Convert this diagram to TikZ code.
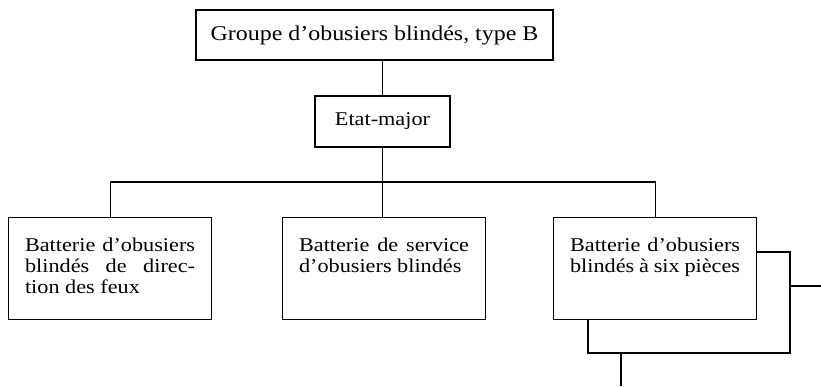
\documentclass[tikz,border=0pt]{standalone}
\usepackage{fontspec}
\setmainfont{Liberation Serif}[FakeStretch=1.14]
\begin{document}
\begin{tikzpicture}[x=1pt, y=-1pt, line width=1.1pt,
    box/.style={draw=black, fill=white, rectangle},
    unit/.style={box, anchor=north west, text width=170pt, inner xsep=16.5pt,
      inner ysep=0pt, text height=34pt, text depth=68pt, align=justify,
      font=\fontsize{19.5}{21}\selectfont}]
  \useasboundingbox (0, 0) rectangle (821, 386);

  \node[box, minimum width=357pt, minimum height=50pt,
    font=\fontsize{21}{24}\selectfont] (G) at (374.5, 35) {Groupe d'obusiers blindés, type B};
  \node[box, minimum width=135pt, minimum height=51pt,
    font=\fontsize{19.5}{21}\selectfont] (E) at (382.5, 121.5) {Etat-major};

  \node[box, minimum width=202pt, minimum height=101pt] (B3s) at (689, 302.5) {};

  \node[unit] (B1) at (8, 217) {Batterie d'obusiers\linebreak blindés de direc-\linebreak tion des feux};
  \node[unit] (B2) at (282, 217) {Batterie de service\linebreak d'obusiers blindés};
  \node[unit] (B3) at (553, 217) {Batterie d'obusiers\linebreak blindés à six pièces};

  \coordinate (bar) at (383, 182);
  \coordinate (R) at (821, 286);
  \coordinate (D) at (621, 386);

  \draw (E.north) -- (E.north |- G.south);
  \draw (E.south) -- (E.south |- B2.north);
  \draw (B1.north) -- (B1.north |- bar) -- (B3.north |- bar) -- (B3.north);
  \draw (R) -- (R -| B3s.east);
  \draw (D) -- (D |- B3s.south);
\end{tikzpicture}
\end{document}
